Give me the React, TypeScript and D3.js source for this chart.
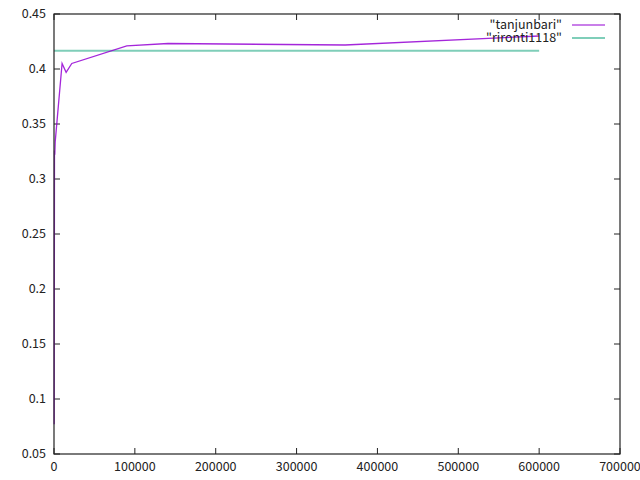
import * as d3 from "d3";

const xTicks = [0, 100000, 200000, 300000, 400000, 500000, 600000, 700000];
const yTicks = [0.05, 0.1, 0.15, 0.2, 0.25, 0.3, 0.35, 0.4, 0.45];

// "tanjunbari" series
const tanjunbariX = [200, 600, 1000, 1500, 10000, 15000, 22000, 90000, 141000, 360000, 600000];
const tanjunbariY = [0.077, 0.326, 0.322, 0.334, 0.405, 0.397, 0.405, 0.421, 0.4232, 0.4218, 0.43];

// "rironti1118" flat reference line
const rirontiX = [0, 600000];
const rirontiY = [0.4167, 0.4167];

const W = 640;
const H = 480;
const margin = { left: 54, right: 20, top: 14, bottom: 26 };
const font = "'Noto Sans CJK JP', 'Liberation Sans', sans-serif";

export default function App() {
  const x = d3.scaleLinear().domain([0, 700000]).range([margin.left, W - margin.right]);
  const y = d3.scaleLinear().domain([0.05, 0.45]).range([H - margin.bottom, margin.top]);

  const line = d3
    .line<[number, number]>()
    .x((d) => x(d[0]))
    .y((d) => y(d[1]));

  const tanjunbari = tanjunbariX.map((v, i) => [v, tanjunbariY[i]] as [number, number]);
  const rironti = rirontiX.map((v, i) => [v, rirontiY[i]] as [number, number]);

  const x0 = x(0);
  const x1 = x(700000);
  const y0 = y(0.05);
  const y1 = y(0.45);
  const tk = 6;

  const legend = [
    { label: '"tanjunbari"', color: "#9400d3" },
    { label: '"rironti1118"', color: "#009e73" },
  ];

  return (
    <div style={{ position: "fixed", left: 0, top: 0 }}>
      <svg width={W} height={H} style={{ display: "block", background: "#fff" }}>
        {/* ticks */}
        {xTicks.map((t) => (
          <g key={"x" + t}>
            <line x1={x(t)} x2={x(t)} y1={y0} y2={y0 - tk} stroke="#222" strokeWidth={1} />
            <line x1={x(t)} x2={x(t)} y1={y1} y2={y1 + tk} stroke="#222" strokeWidth={1} />
            <text x={x(t)} y={y0 + 17} textAnchor="middle" fontFamily={font} fontSize={12.5} fill="#222">
              {t}
            </text>
          </g>
        ))}
        {yTicks.map((t) => (
          <g key={"y" + t}>
            <line x1={x0} x2={x0 + tk} y1={y(t)} y2={y(t)} stroke="#222" strokeWidth={1} />
            <line x1={x1} x2={x1 - tk} y1={y(t)} y2={y(t)} stroke="#222" strokeWidth={1} />
            <text x={x0 - 8} y={y(t)} dy="0.35em" textAnchor="end" fontFamily={font} fontSize={12.5} fill="#222">
              {d3.format("")(+t.toFixed(2))}
            </text>
          </g>
        ))}

        {/* data */}
        <path d={line(rironti) ?? ""} fill="none" stroke="#009e73" strokeWidth={2} strokeOpacity={0.5} />
        <path d={line(tanjunbari) ?? ""} fill="none" stroke="#9400d3" strokeWidth={1.3} strokeOpacity={0.85} />

        {/* border */}
        <rect x={x0} y={y1} width={x1 - x0} height={y0 - y1} fill="none" stroke="#222" strokeWidth={1.2} />

        {/* legend */}
        {legend.map((d, i) => (
          <g key={d.label} transform={`translate(0, ${25 + i * 13})`}>
            <text x={562} y={0} dy="0.35em" textAnchor="end" fontFamily={font} fontSize={12.5} fill="#222">
              {d.label}
            </text>
            <line x1={572} x2={605} y1={0} y2={0} stroke={d.color} strokeWidth={2} strokeOpacity={0.5} />
          </g>
        ))}
      </svg>
    </div>
  );
}
